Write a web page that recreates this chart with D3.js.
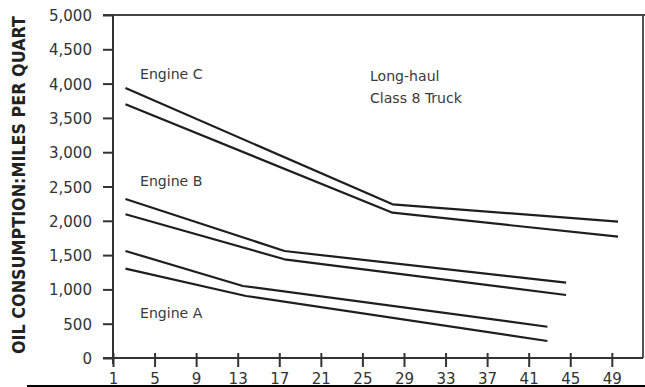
<!DOCTYPE html>
<html>
<head>
<meta charset="utf-8">
<script src="https://cdn.jsdelivr.net/npm/d3@7"></script>
<style>
  html, body { margin: 0; padding: 0; background: #fff; }
  svg { display: block; }
  text { font-family: "DejaVu Sans Condensed", "DejaVu Sans", sans-serif; }
</style>
</head>
<body>
<svg id="chart" width="645" height="387"></svg>
<script>
// ---- data ----
const xTicks = [1, 5, 9, 13, 17, 21, 25, 29, 33, 37, 41, 45, 49];
const yTicks = [0, 500, 1000, 1500, 2000, 2500, 3000, 3500, 4000, 4500, 5000];
const yTitle = "OIL CONSUMPTION:MILES PER QUART";
const noteLines = ["Long-haul", "Class 8 Truck"];

const engineCUpperX = [2.2, 27.9, 49.6];
const engineCUpperY = [3936, 2240, 1987];
const engineCLowerX = [2.2, 27.9, 49.6];
const engineCLowerY = [3699, 2118, 1768];

const engineBUpperX = [2.2, 17.5, 44.6];
const engineBUpperY = [2318, 1560, 1098];
const engineBLowerX = [2.2, 17.5, 44.6];
const engineBLowerY = [2095, 1439, 918];

const engineAUpperX = [2.2, 13.5, 42.8];
const engineAUpperY = [1560, 1050, 456];
const engineALowerX = [2.2, 13.8, 42.8];
const engineALowerY = [1302, 904, 248];

const engineLabels = ["Engine C", "Engine B", "Engine A"];
const engineLabelAnchors = [[3.6, 4060], [3.6, 2510], [3.6, 590]]; // data coords of label baselines

// ---- layout ----
const svg = d3.select("#chart");
const mLeft = 113, mRight = 643, mTop = 15, mBottom = 358;
const x = d3.scaleLinear().domain([1, 52]).range([mLeft, mRight]);
const y = d3.scaleLinear().domain([0, 5000]).range([mBottom, mTop]);
const SX = 1.08;

const zip = (xs, ys) => xs.map((v, i) => [v, ys[i]]);
const series = [
  zip(engineCUpperX, engineCUpperY), zip(engineCLowerX, engineCLowerY),
  zip(engineBUpperX, engineBUpperY), zip(engineBLowerX, engineBLowerY),
  zip(engineAUpperX, engineAUpperY), zip(engineALowerX, engineALowerY)
];

// frame (top and right)
svg.append("line").attr("x1", 103).attr("x2", 645).attr("y1", mTop).attr("y2", mTop)
  .attr("stroke", "#444").attr("stroke-width", 2);
svg.append("line").attr("x1", mRight).attr("x2", mRight).attr("y1", mTop).attr("y2", mBottom)
  .attr("stroke", "#555").attr("stroke-width", 2);

// y axis
const gy = svg.append("g").attr("transform", `translate(${mLeft},0)`)
  .call(d3.axisLeft(y).tickValues(yTicks).tickFormat(d3.format(",")).tickSize(10).tickPadding(0));
gy.select(".domain").attr("stroke", "#333").attr("stroke-width", 2).attr("d", `M0,${mTop}V${mBottom + 6}`);
gy.selectAll(".tick line").attr("stroke", "#333").attr("stroke-width", 2).attr("x1", 1).attr("x2", -10);
gy.selectAll(".tick text")
  .attr("x", null).attr("dy", "0.36em")
  .attr("transform", `translate(-21,0) scale(${SX},1)`)
  .attr("fill", "#333").style("font-size", "15.5px")
  .style("font-family", '"DejaVu Sans Condensed", "DejaVu Sans", sans-serif');

// x axis
const gx = svg.append("g").attr("transform", `translate(0,${mBottom})`)
  .call(d3.axisBottom(x).tickValues(xTicks).tickSize(9).tickPadding(0));
gx.select(".domain").attr("stroke", "#333").attr("stroke-width", 2).attr("d", `M103,0H${mRight}`);
gx.selectAll(".tick line").attr("stroke", "#333").attr("stroke-width", 2).attr("y1", -5).attr("y2", 9);
gx.selectAll(".tick text")
  .attr("y", null).attr("dy", null)
  .attr("transform", `translate(0,26) scale(${SX},1)`)
  .attr("fill", "#333").style("font-size", "15.5px")
  .style("font-family", '"DejaVu Sans Condensed", "DejaVu Sans", sans-serif');

// lines
const line = d3.line().x(d => x(d[0])).y(d => y(d[1]));
svg.append("g").selectAll("path").data(series).join("path")
  .attr("d", line).attr("fill", "none").attr("stroke", "#1e1e1e")
  .attr("stroke-width", 2.2).attr("stroke-linejoin", "round");

// engine labels
svg.append("g").selectAll("text").data(engineLabels).join("text")
  .attr("transform", (d, i) => `translate(${x(engineLabelAnchors[i][0])},${y(engineLabelAnchors[i][1])}) scale(${SX},1)`)
  .attr("fill", "#3a3a3a").style("font-size", "14.5px").text(d => d);

// note
svg.append("g").selectAll("text").data(noteLines).join("text")
  .attr("transform", (d, i) => `translate(370,${81 + i * 22}) scale(${SX},1)`)
  .attr("fill", "#3a3a3a").style("font-size", "14.5px").text(d => d);

// y title
svg.append("text")
  .attr("transform", "translate(25,185) rotate(-90)")
  .attr("text-anchor", "middle")
  .attr("textLength", 338).attr("lengthAdjust", "spacingAndGlyphs")
  .attr("fill", "#222").style("font-size", "18px").style("font-weight", "bold")
  .text(yTitle);

// bottom scan edge line
svg.append("line").attr("x1", 27).attr("x2", 645).attr("y1", 386).attr("y2", 386)
  .attr("stroke", "#000").attr("stroke-width", 2);
</script>
</body>
</html>
